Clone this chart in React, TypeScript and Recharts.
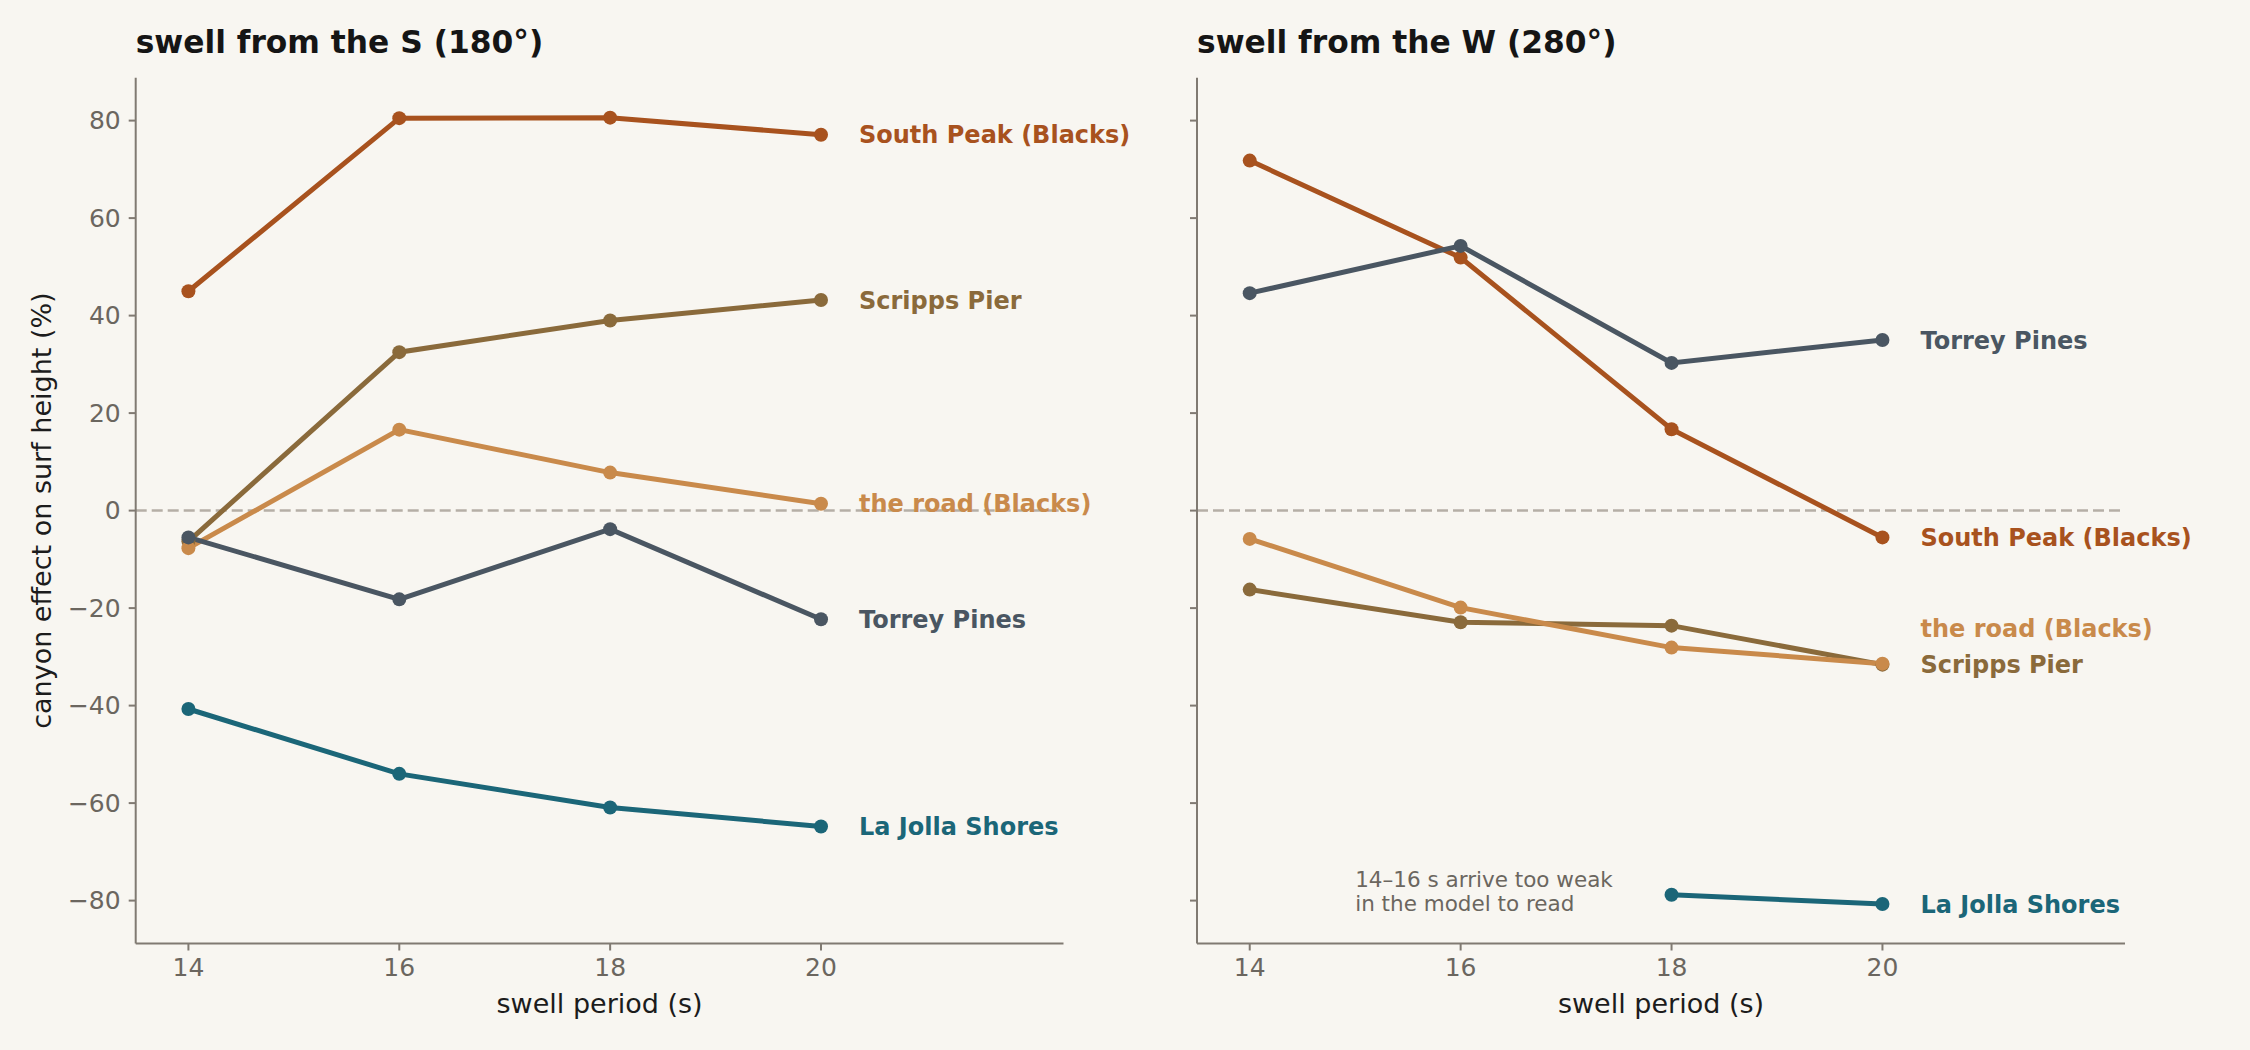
import { LineChart, Line, XAxis, YAxis, ReferenceLine, ReferenceDot } from 'recharts'

const periods = [14, 16, 18, 20]
const xTicks = [14, 16, 18, 20]
const yTicks = [-80, -60, -40, -20, 0, 20, 40, 60, 80]

// swell from the S (180°)
const sSouthPeak = [45.0, 80.5, 80.6, 77.1]
const sScripps = [-6.3, 32.5, 39.0, 43.2]
const sRoad = [-7.7, 16.6, 7.8, 1.4]
const sTorrey = [-5.5, -18.2, -3.8, -22.3]
const sLaJolla = [-40.7, -54.0, -60.9, -64.8]

// swell from the W (280°)
const wSouthPeak = [71.8, 51.9, 16.7, -5.5]
const wScripps = [-16.2, -22.9, -23.6, -31.6]
const wRoad = [-5.8, -19.9, -28.1, -31.4]
const wTorrey = [44.6, 54.3, 30.3, 35.0]
const wLaJolla = [null, null, -78.8, -80.7]

const series = [
  { key: 'southPeak', name: 'South Peak (Blacks)', color: '#a8521e' },
  { key: 'scripps', name: 'Scripps Pier', color: '#8a6a3b' },
  { key: 'road', name: 'the road (Blacks)', color: '#c98a4b' },
  { key: 'torrey', name: 'Torrey Pines', color: '#4a5662' },
  { key: 'laJolla', name: 'La Jolla Shores', color: '#1b6678' },
]

const font = '"DejaVu Sans", sans-serif'
const axisColor = '#807a72'
const tickColor = '#6b665f'
const bg = '#f8f6f1'

type Vals = Record<string, (number | null)[]>

const southVals: Vals = { southPeak: sSouthPeak, scripps: sScripps, road: sRoad, torrey: sTorrey, laJolla: sLaJolla }
const westVals: Vals = { southPeak: wSouthPeak, scripps: wScripps, road: wRoad, torrey: wTorrey, laJolla: wLaJolla }

function toRows(vals: Vals) {
  return periods.map((p, i) => {
    const row: Record<string, number | null> = { period: p }
    series.forEach((s) => (row[s.key] = vals[s.key][i]))
    return row
  })
}

// end-of-line labels, nudged apart when two lines finish at the same spot
function endLabels(vals: Vals, gap: number) {
  const items = series.map((s) => {
    const v = vals[s.key]
    const last = v[v.length - 1] as number
    return { ...s, x: periods[v.length - 1], y: last, ly: last }
  })
  items.sort((a, b) => a.y - b.y)
  let prev = -Infinity
  items.forEach((it) => {
    it.ly = Math.max(it.y, prev + gap)
    prev = it.ly
  })
  return items
}

const fmt = (v: number) => (v < 0 ? `\u2212${-v}` : `${v}`)

function Panel({ vals, left, width, yWidth, right, showLabels, note }: {
  vals: Vals; left: number; width: number; yWidth: number; right: number; showLabels: boolean; note?: boolean
}) {
  const labels = endLabels(vals, 7.4)
  return (
    <div style={{ position: 'absolute', left, top: 0 }}>
      <LineChart width={width} height={1050} data={toRows(vals)}
        margin={{ top: 77.7, right, bottom: 26.5, left: 0 }}>
        <XAxis dataKey="period" type="number" domain={[13.5, 22.3]} ticks={xTicks} interval={0}
          allowDataOverflow height={80} tickSize={7} tickMargin={8}
          axisLine={{ stroke: axisColor, strokeWidth: 2 }} tickLine={{ stroke: axisColor, strokeWidth: 2 }}
          tick={{ fill: tickColor, fontSize: 25, fontFamily: font }} />
        <YAxis type="number" domain={[-88.8, 88.8]} ticks={yTicks} interval={0} allowDataOverflow
          width={yWidth} tickSize={7} tickMargin={8} tickFormatter={showLabels ? fmt : () => ''}
          axisLine={{ stroke: axisColor, strokeWidth: 2 }} tickLine={{ stroke: axisColor, strokeWidth: 2 }}
          tick={{ fill: tickColor, fontSize: 25, fontFamily: font }} />
        <ReferenceLine y={0} stroke="#b5afa6" strokeWidth={2.5} strokeDasharray="11 5" />
        {series.map((s) => (
          <Line key={s.key} type="linear" dataKey={s.key} stroke={s.color} strokeWidth={5}
            dot={{ r: 7, fill: s.color, stroke: s.color, strokeWidth: 0 }} activeDot={false}
            connectNulls={false} isAnimationActive={false} />
        ))}
        {labels.map((l) => (
          <ReferenceDot key={l.key} x={l.x} y={l.ly} r={0} fill="none" stroke="none"
            label={{
              content: (p: any) => (
                <text x={p.viewBox.x + 38} y={p.viewBox.y} dy="0.36em" fill={l.color}
                  fontSize={24} fontWeight={700} fontFamily={font}>{l.name}</text>
              ),
            }} />
        ))}
        {note && (
          <ReferenceDot x={15} y={-78.5} r={0} fill="none" stroke="none"
            label={{
              content: (p: any) => (
                <text x={p.viewBox.x} y={p.viewBox.y} fill={tickColor} fontSize={21.5} fontFamily={font}>
                  <tspan x={p.viewBox.x} dy={-5.8}>14–16 s arrive too weak</tspan>
                  <tspan x={p.viewBox.x} dy={23.7}>in the model to read</tspan>
                </text>
              ),
            }} />
        )}
      </LineChart>
    </div>
  )
}

export default function App() {
  return (
    <div style={{ position: 'absolute', left: 0, top: 0, width: 2250, height: 1050, background: bg, overflow: 'hidden' }}>
      <Panel vals={southVals} left={0} width={1190} yWidth={135.7} right={126.5} showLabels />
      <Panel vals={westVals} left={1125} width={1125} yWidth={72} right={125} showLabels={false} note />
      <svg width={2250} height={1050} style={{ position: 'absolute', left: 0, top: 0, pointerEvents: 'none' }}>
        <text x={135.7} y={53} fill="#151515" fontSize={31.3} fontWeight={700} fontFamily={font}>swell from the S (180°)</text>
        <text x={1197} y={53} fill="#151515" fontSize={31.3} fontWeight={700} fontFamily={font}>swell from the W (280°)</text>
        <text x={599.6} y={1012.5} textAnchor="middle" fill="#1c1c1c" fontSize={27} fontFamily={font}>swell period (s)</text>
        <text x={1661} y={1012.5} textAnchor="middle" fill="#1c1c1c" fontSize={27} fontFamily={font}>swell period (s)</text>
        <text transform="translate(41.6 510.6) rotate(-90)" textAnchor="middle" dy="0.35em" fill="#1c1c1c"
          fontSize={27} fontFamily={font}>canyon effect on surf height (%)</text>
      </svg>
    </div>
  )
}
